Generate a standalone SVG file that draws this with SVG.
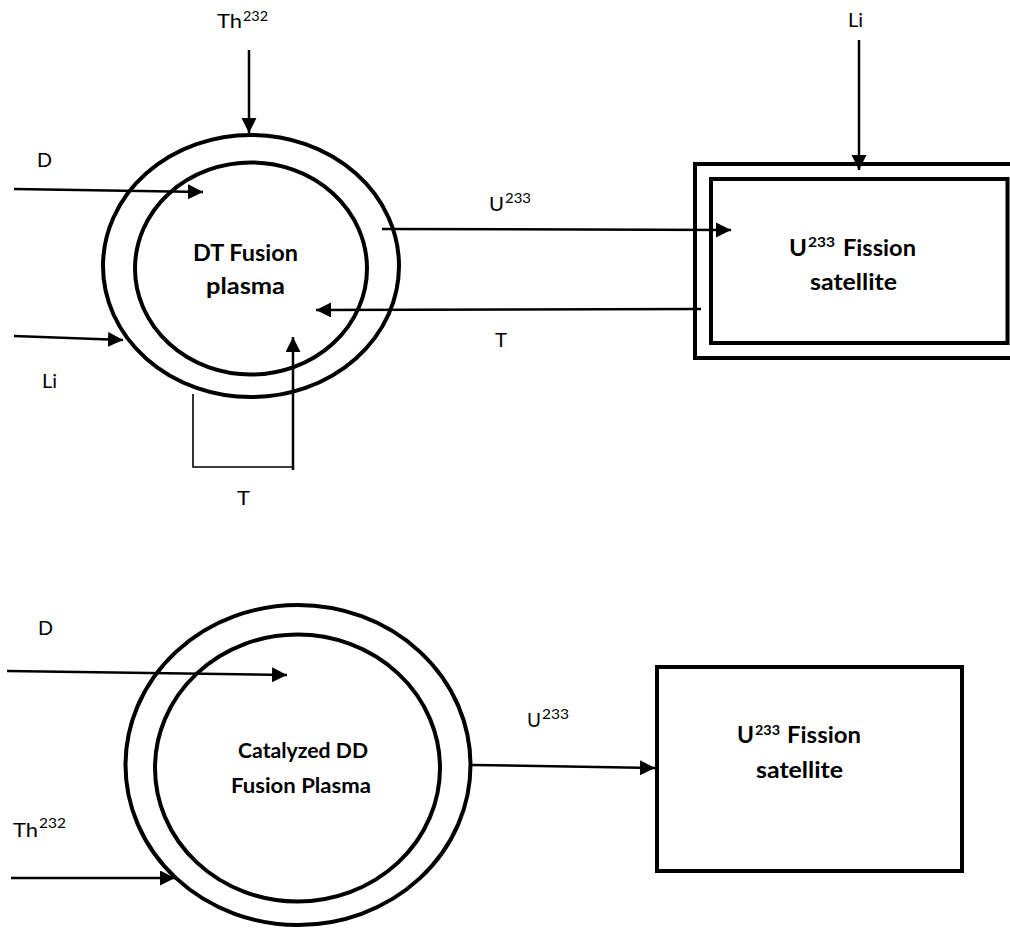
<svg xmlns="http://www.w3.org/2000/svg" width="1010" height="928" viewBox="0 0 1010 928">
<style>
.bg{fill:#ffffff}
.shape{fill:none;stroke:#000;stroke-width:4}
.conn{fill:none;stroke:#000;stroke-width:2.5}
.thin{fill:none;stroke:#000;stroke-width:1.6}
.lbl{font-family:Lato,Carlito,"Liberation Sans",sans-serif;font-size:20px;fill:#000}
.sup{font-family:Lato,Carlito,"Liberation Sans",sans-serif;font-size:13.5px;fill:#000}
.bold{font-family:Lato,Carlito,"Liberation Sans",sans-serif;font-size:22px;font-weight:bold;fill:#000}
.bsup{font-family:Lato,Carlito,"Liberation Sans",sans-serif;font-size:14px;font-weight:bold;fill:#000}
</style>
<defs>
<marker id="arr" markerUnits="userSpaceOnUse" markerWidth="17" markerHeight="16" refX="15" refY="7.5" orient="auto">
<path d="M0,0 L15,7.5 L0,15 Z" fill="#000"/>
</marker>
</defs>
<rect class="bg" x="0" y="0" width="1010" height="928"/>

<g id="dt-plasma">
<ellipse class="shape" cx="251" cy="266" rx="148" ry="131"/>
<ellipse class="shape" cx="251" cy="268.5" rx="116" ry="106"/>
<text class="bold" x="193" y="261" textLength="105" lengthAdjust="spacingAndGlyphs">DT Fusion</text>
<text class="bold" x="206" y="294" textLength="79" lengthAdjust="spacingAndGlyphs">plasma</text>
</g>

<g id="u233-satellite-top">
<rect class="shape" x="695" y="164" width="330" height="194"/>
<rect class="shape" x="711" y="179" width="296.5" height="164"/>
<text class="bold" x="789" y="256" textLength="18" lengthAdjust="spacingAndGlyphs">U</text>
<text class="bsup" x="808" y="247" textLength="27" lengthAdjust="spacingAndGlyphs">233</text>
<text class="bold" x="843" y="256" textLength="73" lengthAdjust="spacingAndGlyphs">Fission</text>
<text class="bold" x="810" y="290" textLength="87" lengthAdjust="spacingAndGlyphs">satellite</text>
</g>

<g id="cdd-plasma">
<ellipse class="shape" cx="298" cy="765" rx="172.5" ry="160"/>
<ellipse class="shape" cx="297.5" cy="768" rx="142.5" ry="133.5"/>
<text class="bold" x="238" y="758" style="font-size:20px" textLength="130" lengthAdjust="spacingAndGlyphs">Catalyzed DD</text>
<text class="bold" x="231" y="793" style="font-size:20px" textLength="140" lengthAdjust="spacingAndGlyphs">Fusion Plasma</text>
</g>

<g id="u233-satellite-bottom">
<rect class="shape" x="657" y="667" width="305" height="204"/>
<text class="bold" x="737" y="743" textLength="17" lengthAdjust="spacingAndGlyphs">U</text>
<text class="bsup" x="755" y="735" textLength="25" lengthAdjust="spacingAndGlyphs">233</text>
<text class="bold" x="787" y="743" textLength="74" lengthAdjust="spacingAndGlyphs">Fission</text>
<text class="bold" x="756" y="778" textLength="87" lengthAdjust="spacingAndGlyphs">satellite</text>
</g>

<g id="connectors">
<line class="conn" x1="249" y1="50" x2="249" y2="133" marker-end="url(#arr)"/>
<line class="conn" x1="14" y1="189" x2="203" y2="192" marker-end="url(#arr)"/>
<line class="conn" x1="14" y1="336" x2="123" y2="340" marker-end="url(#arr)"/>
<line class="conn" x1="382" y1="229" x2="731" y2="230" marker-end="url(#arr)"/>
<line class="conn" x1="701" y1="309" x2="316" y2="310" marker-end="url(#arr)"/>
<polyline class="thin" points="193,394 193,467 293,467"/>
<line class="conn" x1="293" y1="470" x2="293" y2="337" marker-end="url(#arr)"/>
<line class="conn" x1="859" y1="40" x2="859" y2="170" marker-end="url(#arr)"/>
<line class="conn" x1="7" y1="671" x2="287" y2="675" marker-end="url(#arr)"/>
<line class="conn" x1="11" y1="878" x2="175" y2="878" marker-end="url(#arr)"/>
<line class="conn" x1="472" y1="765" x2="655" y2="768" marker-end="url(#arr)"/>
</g>

<g id="labels">
<text class="lbl" x="217" y="28" textLength="25" lengthAdjust="spacingAndGlyphs">Th</text>
<text class="sup" x="243" y="21" textLength="25" lengthAdjust="spacingAndGlyphs">232</text>
<text class="lbl" x="37" y="167" textLength="15" lengthAdjust="spacingAndGlyphs">D</text>
<text class="lbl" x="42" y="388" textLength="15" lengthAdjust="spacingAndGlyphs">Li</text>
<text class="lbl" x="237" y="505" textLength="13" lengthAdjust="spacingAndGlyphs">T</text>
<text class="lbl" x="489" y="211" textLength="15" lengthAdjust="spacingAndGlyphs">U</text>
<text class="sup" x="505" y="203" textLength="26" lengthAdjust="spacingAndGlyphs">233</text>
<text class="lbl" x="495" y="347" textLength="12" lengthAdjust="spacingAndGlyphs">T</text>
<text class="lbl" x="848" y="27" textLength="15" lengthAdjust="spacingAndGlyphs">Li</text>
<text class="lbl" x="38" y="635" textLength="15" lengthAdjust="spacingAndGlyphs">D</text>
<text class="lbl" x="13" y="837" textLength="25" lengthAdjust="spacingAndGlyphs">Th</text>
<text class="sup" x="39" y="828" textLength="27" lengthAdjust="spacingAndGlyphs">232</text>
<text class="lbl" x="527" y="727" textLength="14" lengthAdjust="spacingAndGlyphs">U</text>
<text class="sup" x="542" y="719" textLength="27" lengthAdjust="spacingAndGlyphs">233</text>
</g>
</svg>
